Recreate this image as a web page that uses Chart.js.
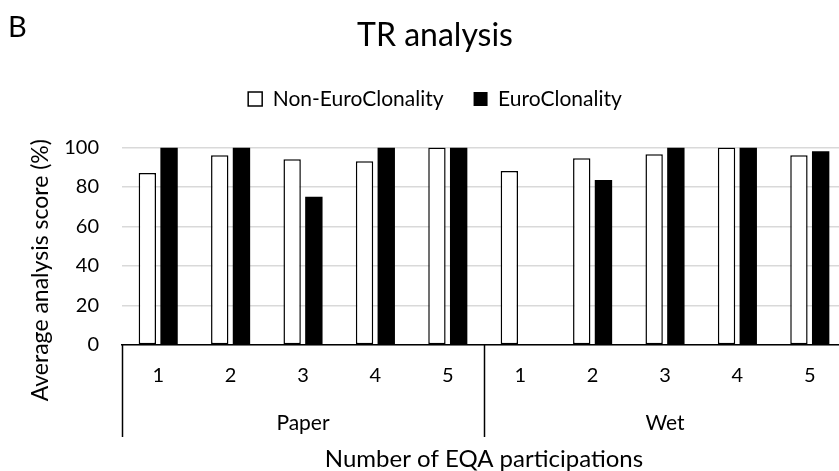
<!DOCTYPE html>
<html>
<head>
<meta charset="utf-8">
<script src="https://cdn.jsdelivr.net/npm/chart.js@4"></script>
<style>
  html, body { margin: 0; padding: 0; background: #fff; overflow: hidden; }
  #wrap { position: relative; width: 870px; height: 471px; }
  #panel { position: absolute; left: 8px; top: 11px; font: 29px Lato, sans-serif; color: #000; line-height: 1; }
</style>
</head>
<body>
<div id="wrap">
  <canvas id="chart" width="870" height="471"></canvas>
  <div id="panel">B</div>
</div>
<script>
// categories: EQA participation number inside each scheme type
const participations = ['1', '2', '3', '4', '5', '1', '2', '3', '4', '5'];
const groups = ['Paper', 'Wet'];

// average analysis score (%)
const nonEuroClonality = [87, 96, 94, 93, 100, 88, 94.5, 96.5, 100, 96];
const euroClonality    = [100, 100, 75, 100, 100, null, 83.5, 100, 100, 98];

const yTicks = [0, 20, 40, 60, 80, 100];

const FONT = 'Lato, sans-serif';
const Y_TITLE = 'Average analysis score (%)';

// extra room between the legend and the plot
const legendGap = {
    id: 'legendGap',
    afterInit(chart) {
        const legend = chart.legend;
        const fit = legend.fit;
        legend.fit = function() {
            fit.call(this);
            this.height += 28;
        };
    }
};

// vertical lines separating Paper / Wet under the axis + y axis title
const groupDividers = {
    id: 'groupDividers',
    afterDraw(chart) {
        const x = chart.scales.x;
        const x2 = chart.scales.x2;
        const area = chart.chartArea;
        const ctx = chart.ctx;
        const n = participations.length;
        const per = n / groups.length;
        const half = (x.getPixelForValue(1) - x.getPixelForValue(0)) / 2;
        const yTop = x.top;
        const yBottom = x2.bottom - 34;
        ctx.save();
        ctx.strokeStyle = '#000';
        ctx.lineWidth = 1.5;
        for (let g = 0; g <= groups.length; g++) {
            const idx = Math.min(g * per, n - 1);
            const px = Math.round(x.getPixelForValue(idx) + (g * per >= n ? half : -half)) + 0.5;
            ctx.beginPath();
            ctx.moveTo(px, yTop);
            ctx.lineTo(px, yBottom);
            ctx.stroke();
        }
        // y title sits a bit lower than the plot centre, as in the figure
        ctx.translate(41, (area.top + area.bottom) / 2 + 24);
        ctx.rotate(-Math.PI / 2);
        ctx.fillStyle = '#000';
        ctx.font = '23px ' + FONT;
        ctx.textAlign = 'center';
        ctx.textBaseline = 'middle';
        ctx.fillText(Y_TITLE, 0, 0);
        ctx.restore();
    }
};

new Chart(document.getElementById('chart'), {
    type: 'bar',
    data: {
        labels: participations,
        datasets: [
            {
                label: 'Non-EuroClonality',
                data: nonEuroClonality,
                backgroundColor: '#ffffff',
                borderColor: '#000000',
                borderWidth: 1.5,
                borderSkipped: false
            },
            {
                label: 'EuroClonality',
                data: euroClonality,
                backgroundColor: '#000000',
                borderColor: '#000000',
                borderWidth: 0
            }
        ]
    },
    options: {
        responsive: false,
        animation: false,
        barPercentage: 0.8,
        categoryPercentage: 0.6,
        layout: { padding: { left: 24, right: 24, top: 6, bottom: 0 } },
        plugins: {
            title: {
                display: true,
                text: 'TR analysis',
                color: '#000',
                font: { family: FONT, size: 32, weight: 'normal' },
                padding: { top: 10, bottom: 4 }
            },
            legend: {
                position: 'top',
                labels: {
                    color: '#000',
                    font: { family: FONT, size: 21 },
                    boxWidth: 14,
                    boxHeight: 14,
                    padding: 30
                }
            },
            tooltip: { enabled: false }
        },
        scales: {
            x: {
                type: 'category',
                grid: { display: false },
                border: { display: true, color: '#000', width: 1.5 },
                ticks: { color: '#000', font: { family: FONT, size: 20, lineHeight: 1 }, padding: 13 }
            },
            x2: {
                type: 'category',
                labels: groups,
                position: 'bottom',
                offset: true,
                grid: { display: false },
                border: { display: false },
                ticks: { color: '#000', font: { family: FONT, size: 21, lineHeight: 1 }, padding: 6 },
                title: {
                    display: true,
                    text: 'Number of EQA participations',
                    color: '#000',
                    font: { family: FONT, size: 24, lineHeight: 1 },
                    padding: { top: 7, bottom: 0 }
                }
            },
            y: {
                min: 0,
                max: 100,
                afterBuildTicks: axis => { axis.ticks = yTicks.map(v => ({ value: v })); },
                afterFit: axis => { axis.width = 98; },
                grid: { color: '#d9d9d9', lineWidth: 1.5, drawTicks: false },
                border: { display: false },
                ticks: { color: '#000', font: { family: FONT, size: 20 }, padding: 23 }
            }
        }
    },
    plugins: [legendGap, groupDividers]
});
</script>
</body>
</html>
